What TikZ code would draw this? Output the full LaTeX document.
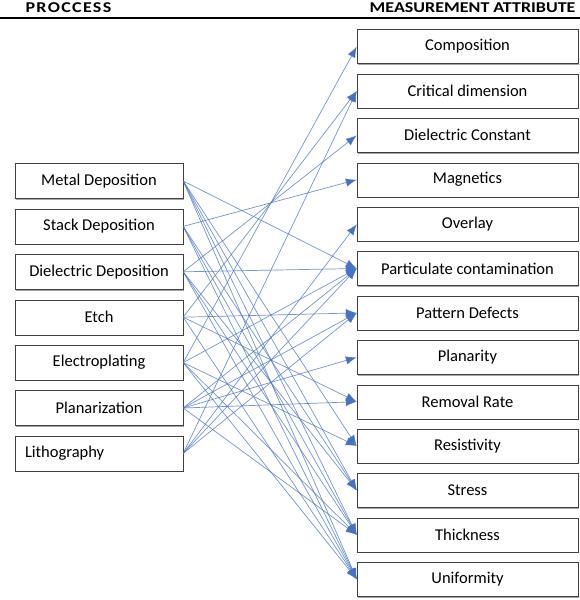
\documentclass[tikz,border=0pt]{standalone}
\usepackage{fontspec}
\setmainfont{Carlito}
\newfontfamily\headfont[FakeStretch=1.2]{Carlito}
\newfontfamily\headfontwide[FakeStretch=1.2, LetterSpace=9]{Carlito}
\usepackage{xcolor}
\usetikzlibrary{positioning, arrows.meta, shadows}
\definecolor{linkblue}{RGB}{68,114,196}

\begin{document}
\begin{tikzpicture}[node distance=10pt and 0pt,
  every node/.style={font=\fontsize{16.5}{18}\selectfont},
  procbox/.style={draw=black!75, fill=white, minimum width=168pt, minimum height=35pt, align=center, inner sep=0pt, drop shadow={shadow xshift=1.2pt, shadow yshift=-1.2pt, fill=black!35, opacity=1}},
  attrbox/.style={draw=black!75, fill=white, minimum width=221pt, minimum height=34pt, align=center, inner sep=0pt, drop shadow={shadow xshift=1.2pt, shadow yshift=-1.2pt, fill=black!35, opacity=1}},
  link/.style={draw=linkblue, draw opacity=0.75, line width=0.7pt, -{Latex[length=11pt, width=8.5pt]}}]
  \useasboundingbox (0pt,0pt) rectangle (580pt,-600pt);

  % headings
  \node[font=\headfontwide\fontsize{15}{16}\selectfont\bfseries, anchor=west] (hproc) at (22pt,-8pt) {PROCCESS};
  \node[font=\headfont\fontsize{15}{16}\selectfont\bfseries, anchor=east] (hattr) at (579pt,-8pt) {MEASUREMENT ATTRIBUTE};
  \draw[line width=1.5pt] (0pt,-18pt) -- (580pt,-18pt);

  % processes
  \node[procbox] (metal) at (99pt,-181pt) {Metal Deposition};
  \node[procbox, below=of metal] (stack) {Stack Deposition};
  \node[procbox, below=of stack] (dielec) {Dielectric Deposition};
  \node[procbox, below=of dielec] (etch) {Etch};
  \node[procbox, below=of etch] (eplate) {Electroplating};
  \node[procbox, below=of eplate] (planar) {Planarization};
  \node[procbox, below=of planar, text width=148pt, align=left] (litho) {Lithography};

  % measurement attributes
  \node[attrbox] (comp) at (467.5pt,-46.5pt) {Composition};
  \node[attrbox, below=of comp] (cd) {Critical dimension};
  \node[attrbox, below=of cd] (kval) {Dielectric Constant};
  \node[attrbox, below=of kval] (magn) {Magnetics};
  \node[attrbox, below=of magn] (overlay) {Overlay};
  \node[attrbox, below=of overlay] (partic) {Particulate contamination};
  \node[attrbox, below=of partic] (pattern) {Pattern Defects};
  \node[attrbox, below=of pattern] (planarity) {Planarity};
  \node[attrbox, below=of planarity] (removal) {Removal Rate};
  \node[attrbox, below=of removal] (resist) {Resistivity};
  \node[attrbox, below=of resist] (stress) {Stress};
  \node[attrbox, below=of stress] (thick) {Thickness};
  \node[attrbox, below=of thick] (unif) {Uniformity};

  % links
  \draw[link] (metal.east) -- (partic.west);
  \draw[link] (metal.east) -- (resist.west);
  \draw[link] (metal.east) -- (stress.west);
  \draw[link] (metal.east) -- (thick.west);
  \draw[link] (metal.east) -- (unif.west);
  \draw[link] (stack.east) -- (magn.west);
  \draw[link] (stack.east) -- (stress.west);
  \draw[link] (stack.east) -- (thick.west);
  \draw[link] (stack.east) -- (unif.west);
  \draw[link] (dielec.east) -- (kval.west);
  \draw[link] (dielec.east) -- (partic.west);
  \draw[link] (dielec.east) -- (stress.west);
  \draw[link] (dielec.east) -- (thick.west);
  \draw[link] (dielec.east) -- (unif.west);
  \draw[link] (etch.east) -- (cd.west);
  \draw[link] (etch.east) -- (pattern.west);
  \draw[link] (etch.east) -- (removal.west);
  \draw[link] (etch.east) -- (unif.west);
  \draw[link] (eplate.east) -- (comp.west);
  \draw[link] (eplate.east) -- (partic.west);
  \draw[link] (eplate.east) -- (resist.west);
  \draw[link] (eplate.east) -- (thick.west);
  \draw[link] (eplate.east) -- (unif.west);
  \draw[link] (planar.east) -- (planarity.west);
  \draw[link] (planar.east) -- (removal.west);
  \draw[link] (planar.east) -- (partic.west);
  \draw[link] (planar.east) -- (pattern.west);
  \draw[link] (planar.east) -- (thick.west);
  \draw[link] (litho.east) -- (cd.west);
  \draw[link] (litho.east) -- (overlay.west);
  \draw[link] (litho.east) -- (partic.west);
  \draw[link] (litho.east) -- (pattern.west);
\end{tikzpicture}
\end{document}
